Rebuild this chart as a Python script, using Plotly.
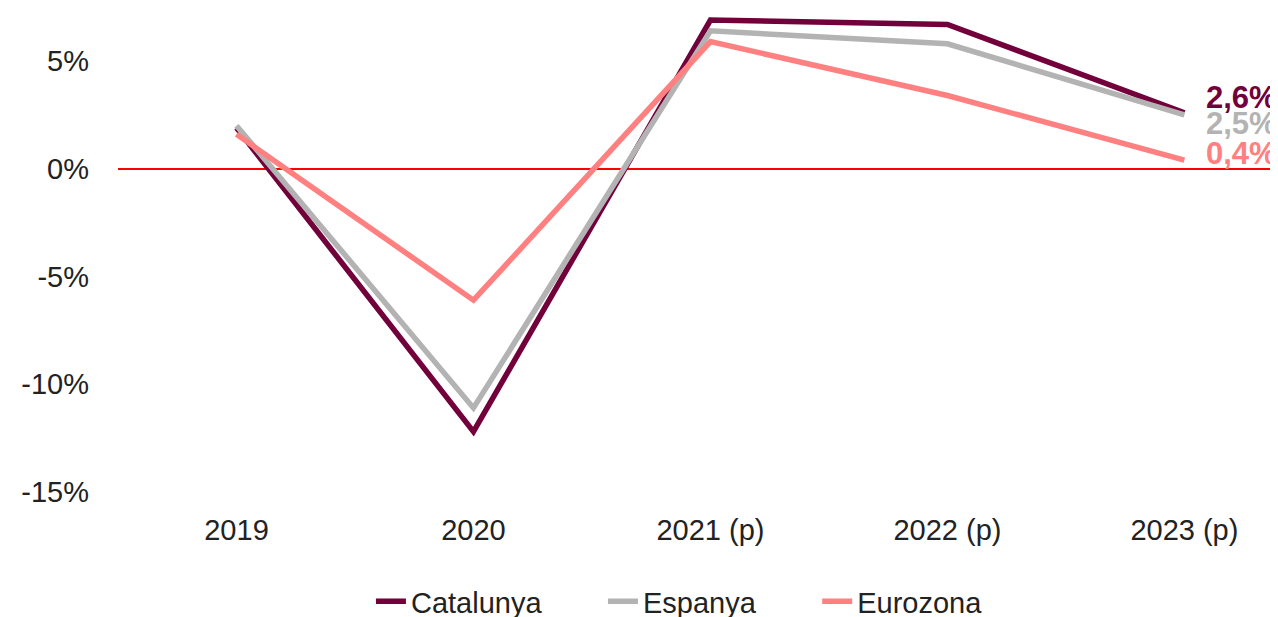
import plotly.graph_objects as go

years = ["2019", "2020", "2021 (p)", "2022 (p)", "2023 (p)"]
catalunya = [1.9, -12.2, 6.9, 6.7, 2.6]
espanya = [2.0, -11.1, 6.4, 5.8, 2.5]
eurozona = [1.6, -6.1, 5.9, 3.4, 0.4]

series = [
    ("Catalunya", catalunya, "#72003A", -15),
    ("Espanya", espanya, "#B3B3B3", 9),
    ("Eurozona", eurozona, "#FF8080", -7),
]

FONT = "Liberation Sans"
PAD = "\u00a0" * 7
fig = go.Figure()
for i, (name, vals, color, _) in enumerate(series):
    fig.add_trace(go.Scatter(
        x=years, y=vals, name=name + (PAD if i < len(series) - 1 else ""), mode="lines",
        line=dict(color=color, width=5.5), cliponaxis=False,
    ))

for name, vals, color, dy in series:
    fig.add_annotation(
        x=years[-1], y=vals[-1], text="<b>" + f"{vals[-1]:.1f}".replace(".", ",") + "%</b>",
        showarrow=False, xanchor="left", yanchor="middle", xshift=20, yshift=-dy,
        font=dict(family=FONT, size=31, color=color),
    )

fig.update_layout(
    width=1270, height=609,
    margin=dict(l=110, r=0, t=0, b=125, autoexpand=False),
    paper_bgcolor="white", plot_bgcolor="white",
    font=dict(family=FONT, size=29, color="#222222"),
    showlegend=True,
    legend=dict(orientation="h", x=0.484, xanchor="center", y=-0.226, yanchor="middle",
                font=dict(size=29, color="#222222"), itemwidth=30, tracegroupgap=0),
    xaxis=dict(type="category", range=[-0.5, 4.395], showgrid=False, showline=False,
               zeroline=False, ticks="", tickfont=dict(size=29), automargin=False,
               ticklabelstandoff=18),
    yaxis=dict(range=[-15, 7.46], tickvals=[-15, -10, -5, 0, 5],
               ticktext=["-15%", "-10%", "-5%", "0%", "5%"],
               showgrid=False, zeroline=True, zerolinecolor="#FF0000", zerolinewidth=1.5,
               showline=False, ticks="", ticklabelstandoff=28, tickfont=dict(size=29),
               automargin=False),
)

fig.write_html("out.html")
